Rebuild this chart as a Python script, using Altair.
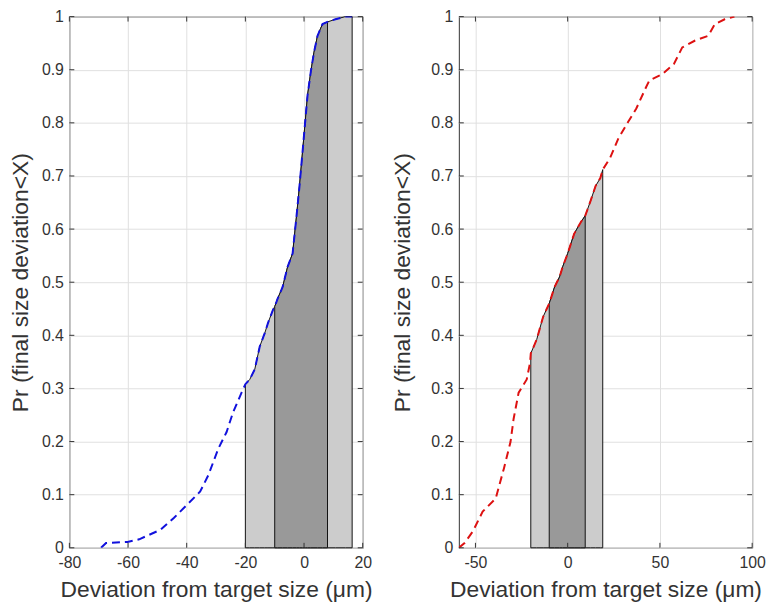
import altair as alt
import pandas as pd

# ---- data ----
left_x = [-69.2, -67.5, -60.2, -56.2, -48.9, -44.4, -39.9, -35.4, -32.6, -29.2, -26.4, -24.2,
          -21.3, -20.0, -18.5, -16.8, -15.1, -13.4, -12.3, -10.6, -10.0, -9.0, -7.3, -5.6, -3.9,
          -2.5, -1.6, -0.5, 0.6, 1.2, 2.3, 3.4, 4.6, 6.3, 8.0, 10.7, 14.1, 16.4]
left_y = [0.0, 0.009, 0.011, 0.016, 0.034, 0.056, 0.081, 0.106, 0.137, 0.187, 0.218, 0.255,
          0.292, 0.308, 0.317, 0.336, 0.379, 0.404, 0.423, 0.448, 0.454, 0.469, 0.491, 0.529, 0.554,
          0.628, 0.678, 0.746, 0.815, 0.852, 0.896, 0.933, 0.964, 0.986, 0.990, 0.995, 1.0, 1.0]

right_x = [-59.0, -55.9, -51.4, -46.1, -39.0, -34.6, -31.0, -29.3, -26.6, -22.2, -20.4, -20.0,
           -16.8, -13.3, -10.0, -7.1, -4.4, -2.7, 0.0, 3.5, 7.1, 9.5, 12.4, 15.1, 17.7, 19.0,
           23.0, 27.5, 32.8, 37.2, 42.6, 44.3, 51.4, 57.6, 62.1, 69.1, 76.2, 79.8, 85.1, 90.4]
right_y = [0.0, 0.009, 0.031, 0.068, 0.093, 0.149, 0.199, 0.243, 0.292, 0.317, 0.348, 0.366,
           0.392, 0.435, 0.460, 0.491, 0.510, 0.529, 0.554, 0.591, 0.613, 0.625, 0.653, 0.681, 0.696, 0.712,
           0.734, 0.771, 0.802, 0.827, 0.868, 0.880, 0.892, 0.911, 0.942, 0.955, 0.964, 0.986, 0.995, 1.0]

left_band_lo = [-20.0, -10.0]
left_band_hi = [16.4, 8.0]
right_band_lo = [-20.0, -10.0]
right_band_hi = [19.0, 9.5]
band_fill = ["#cccccc", "#999999"]

left_xticks = [-80, -60, -40, -20, 0, 20]
right_xticks = [-50, 0, 50, 100]
y_ticks = [0, 0.1, 0.2, 0.3, 0.4, 0.5, 0.6, 0.7, 0.8, 0.9, 1]

W, H = 296, 536
FONT = "Liberation Sans"
TXT = "#333333"


def panel(xs, ys, lo, hi, xdom, xticks, color, ytitle_pad):
    df = pd.DataFrame({"x": xs, "y": ys})
    xsc = alt.Scale(domain=xdom, nice=False, zero=False)
    ysc = alt.Scale(domain=[0, 1], nice=False)
    xenc = alt.X("x:Q", scale=xsc,
                 axis=alt.Axis(values=xticks, title="Deviation from target size (μm)",
                               labelExpr="'' + datum.value", labelPadding=7, titlePadding=8))
    yenc = alt.Y("y:Q", scale=ysc,
                 axis=alt.Axis(values=y_ticks, title="Pr (final size deviation<X)",
                               labelExpr="'' + datum.value", labelPadding=6,
                               titlePadding=ytitle_pad))
    base = alt.Chart(df)
    layers = []
    for a, b, c in zip(lo, hi, band_fill):
        layers.append(
            base.mark_area(fill=c, stroke="#111111", strokeWidth=1, opacity=1)
            .encode(x=xenc, y=yenc)
            .transform_filter(f"datum.x >= {a} && datum.x <= {b}")
        )
    layers.append(
        base.mark_line(color=color, strokeDash=[8, 5], strokeWidth=2, clip=True)
        .encode(x=xenc, y=yenc)
    )
    xt = alt.Chart(pd.DataFrame({"x": xticks}))
    yt = alt.Chart(pd.DataFrame({"y": y_ticks}))
    tick_style = dict(color="#333333", strokeWidth=1)
    layers += [
        xt.mark_rule(**tick_style).encode(x=xenc, y=alt.value(H), y2=alt.value(H - 5)),
        xt.mark_rule(**tick_style).encode(x=xenc, y=alt.value(0), y2=alt.value(5)),
        yt.mark_rule(**tick_style).encode(y=yenc, x=alt.value(0), x2=alt.value(5)),
        yt.mark_rule(**tick_style).encode(y=yenc, x=alt.value(W - 5), x2=alt.value(W)),
    ]
    return alt.layer(*layers).properties(width=W, height=H)


left = panel(left_x, left_y, left_band_lo, left_band_hi, [-80, 20], left_xticks, "#1111dd", 9)
right = panel(right_x, right_y, right_band_lo, right_band_hi, [-59, 100], right_xticks, "#dd1111", 17)

chart = (
    alt.hconcat(left, right, spacing=18)
    .properties(padding={"left": 9, "top": 5, "right": 5, "bottom": 5}, background="white")
    .configure_view(stroke="#333333", strokeWidth=1)
    .configure_axis(
        labelFont=FONT, labelFontSize=16, labelColor=TXT,
        labelFlush=False, labelOverlap=False,
        titleFont=FONT, titleFontSize=23, titleFontWeight="normal", titleColor=TXT,
        grid=True, gridColor="#e0e0e0", gridWidth=1,
        ticks=False, domain=False,
    )
)

chart.save("out.html", embed_options={"renderer": "svg", "actions": False})
